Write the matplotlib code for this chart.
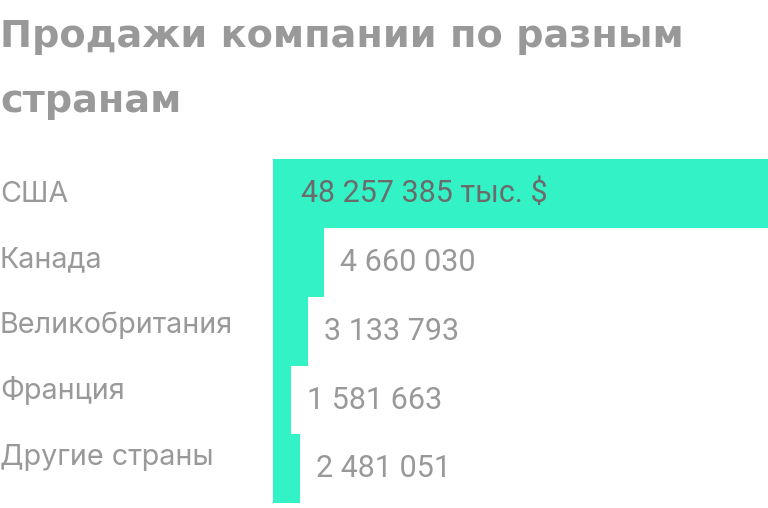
import matplotlib
matplotlib.use("Agg")
import matplotlib.pyplot as plt

plt.rcParams["font.family"] = ["Roboto", "DejaVu Sans"]

countries = ["США", "Канада", "Великобритания", "Франция", "Другие страны"]
sales = [48257385, 4660030, 3133793, 1581663, 2481051]
value_labels = ["48 257 385 тыс. $", "4 660 030", "3 133 793", "1 581 663", "2 481 051"]
title_lines = ["Продажи компании по разным", "странам"]

bar_color = "#33f3c6"
grey = "#999999"
dark = "#6b6b6b"

fig = plt.figure(figsize=(7.68, 5.08), dpi=100)
ax = fig.add_axes([0.3559, 0.0092, 0.6441, 0.6778])

pos = list(range(len(countries)))
ax.barh(pos, sales, height=1.0, color=bar_color, align="center")
ax.set_ylim(len(countries) - 0.5, -0.5)
ax.set_xlim(0, 45.3e6)
ax.axis("off")

for i, (v, lab) in enumerate(zip(sales, value_labels)):
    if i == 0:
        ax.annotate(lab, xy=(0, i), xytext=(20, 0), textcoords="offset points",
                    va="center", ha="left", fontsize=22, color=dark)
    else:
        ax.annotate(lab, xy=(v, i), xytext=(11.5, 0), textcoords="offset points",
                    va="center", ha="left", fontsize=22, color=grey)

for i, name in enumerate(countries):
    ax.annotate(name, xy=(0, 0.12 + 0.955 * i), xycoords=("figure fraction", "data"),
                va="baseline", ha="left", fontsize=20.7, color=grey,
                family=["Inter", "DejaVu Sans"], annotation_clip=False)

# title, two lines with their own baselines
for base, line in zip([46.7, 111.7], title_lines):
    fig.text(0.0, 1 - base / 508, line, fontsize=27.5, fontweight="bold",
             color=grey, ha="left", va="baseline", family="DejaVu Sans")

fig.savefig("out.png", dpi=100)
